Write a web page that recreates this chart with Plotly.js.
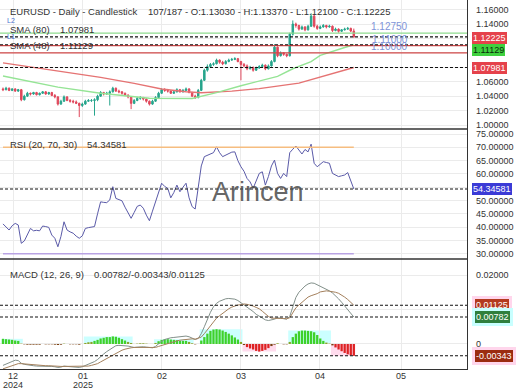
<!DOCTYPE html>
<html><head><meta charset="utf-8">
<script src="https://cdn.plot.ly/plotly-3.0.1.min.js"></script>
<style>html,body{margin:0;padding:0;background:#fff}#chart{width:520px;height:390px}</style>
</head><body><div id="chart"></div>
<script>
// ---------- DATA ----------
const openP = [1.050,1.049,1.051,1.048,1.050,1.047,1.049,1.035,1.040,1.044,
1.043,1.045,1.042,1.044,1.046,1.043,1.045,1.041,1.039,1.029,
1.033,1.039,1.034,1.033,1.032,1.030,1.027,1.029,1.033,1.034,
1.034,1.035,1.040,1.045,1.043,1.044,1.046,1.051,1.047,1.046,
1.044,1.041,1.039,1.030,1.034,1.037,1.038,1.036,1.033,1.029,
1.033,1.038,1.044,1.049,1.048,1.047,1.044,1.046,1.049,1.046,
1.048,1.050,1.045,1.040,1.038,1.048,1.062,1.076,1.081,1.084,
1.085,1.090,1.087,1.085,1.088,1.090,1.091,1.092,1.088,1.084,
1.082,1.078,1.080,1.076,1.079,1.081,1.083,1.078,1.082,1.088,
1.108,1.096,1.100,1.098,1.096,1.126,1.140,1.138,1.133,1.136,
1.132,1.137,1.151,1.137,1.134,1.136,1.138,1.136,1.137,1.131,
1.133,1.130,1.132,1.133,1.134,1.13030];
const highP = [1.052,1.053,1.052,1.051,1.051,1.050,1.050,1.042,1.046,1.045,
1.046,1.046,1.045,1.047,1.047,1.046,1.046,1.043,1.040,1.035,
1.041,1.040,1.036,1.035,1.034,1.031,1.031,1.035,1.036,1.036,
1.037,1.042,1.047,1.046,1.046,1.048,1.053,1.052,1.049,1.047,
1.045,1.043,1.040,1.036,1.039,1.040,1.039,1.037,1.034,1.035,
1.040,1.046,1.051,1.051,1.050,1.048,1.048,1.051,1.050,1.050,
1.052,1.051,1.046,1.042,1.050,1.064,1.078,1.084,1.086,1.087,
1.092,1.091,1.089,1.090,1.092,1.093,1.094,1.093,1.089,1.086,
1.084,1.082,1.081,1.081,1.083,1.085,1.084,1.084,1.090,1.112,
1.109,1.102,1.101,1.099,1.128,1.145,1.142,1.139,1.138,1.137,
1.139,1.155,1.153,1.139,1.138,1.140,1.139,1.139,1.138,1.135,
1.134,1.133,1.135,1.136,1.135,1.13370];
const lowP = [1.047,1.048,1.047,1.047,1.046,1.046,1.033,1.034,1.039,1.041,
1.042,1.041,1.041,1.043,1.042,1.042,1.040,1.037,1.027,1.028,
1.032,1.033,1.031,1.030,1.029,1.011,1.025,1.028,1.032,1.032,
1.013,1.033,1.039,1.041,1.042,1.027,1.045,1.046,1.044,1.042,
1.040,1.037,1.022,1.029,1.033,1.035,1.034,1.031,1.027,1.028,
1.032,1.037,1.043,1.046,1.045,1.043,1.043,1.045,1.045,1.045,
1.047,1.044,1.039,1.036,1.037,1.047,1.061,1.074,1.079,1.082,
1.084,1.085,1.083,1.084,1.087,1.089,1.090,1.087,1.062,1.080,
1.076,1.077,1.074,1.075,1.078,1.080,1.076,1.077,1.081,1.087,
1.094,1.095,1.096,1.094,1.095,1.124,1.135,1.131,1.132,1.130,
1.131,1.136,1.135,1.132,1.133,1.135,1.134,1.135,1.129,1.130,
1.128,1.129,1.131,1.132,1.129,1.12100];
const closeP = [1.049,1.051,1.048,1.050,1.047,1.049,1.035,1.040,1.044,1.043,
1.045,1.042,1.044,1.046,1.043,1.045,1.041,1.039,1.029,1.033,
1.039,1.034,1.033,1.032,1.030,1.027,1.029,1.033,1.034,1.034,
1.035,1.040,1.045,1.043,1.044,1.046,1.051,1.047,1.046,1.044,
1.041,1.039,1.030,1.034,1.037,1.038,1.036,1.033,1.029,1.033,
1.038,1.044,1.049,1.048,1.047,1.044,1.046,1.049,1.046,1.048,
1.050,1.045,1.040,1.038,1.048,1.062,1.076,1.081,1.084,1.085,
1.090,1.087,1.085,1.088,1.090,1.091,1.092,1.088,1.084,1.082,
1.078,1.080,1.076,1.079,1.081,1.083,1.078,1.082,1.088,1.108,
1.096,1.100,1.098,1.096,1.126,1.140,1.138,1.133,1.136,1.132,
1.137,1.151,1.137,1.134,1.136,1.138,1.136,1.137,1.131,1.133,
1.130,1.132,1.133,1.134,1.13030,1.12225];

const sma80Idx = [0,18,32,43,52,60,65,75,84,97,106,115];
const sma80Val = [1.0862,1.0748,1.0660,1.0578,1.0500,1.0462,1.0448,1.0470,1.0505,1.0580,1.0690,1.07981];
const sma48Idx = [0,18,32,48,62,70,78,84,90,95,101,104,109,112,115];
const sma48Val = [1.0680,1.0525,1.0440,1.0370,1.0368,1.0450,1.0545,1.0610,1.0675,1.0780,1.0880,1.0965,1.1040,1.1075,1.11129];

const rsi = [41.2,40.0,38.9,40.5,41.4,40.8,33.9,34.8,37.0,39.5,
38.6,38.8,38.6,40.4,40.2,39.9,37.0,35.8,32.6,36.5,
42.0,38.9,38.2,37.7,36.6,35.8,36.7,39.5,39.8,39.9,
40.2,45.0,49.5,49.3,49.2,50.2,55.2,50.8,50.3,49.9,
47.5,45.5,43.3,45.5,47.8,48.3,47.1,44.5,42.4,46.0,
49.5,53.0,56.5,55.3,54.6,51.0,53.0,55.8,53.3,55.0,
56.5,51.0,47.7,46.8,56.0,63.0,66.5,67.0,67.5,68.0,
70.2,68.0,66.5,67.0,67.5,68.2,68.3,65.0,62.7,61.0,
58.3,57.0,54.6,57.5,60.2,60.8,55.8,59.0,63.0,65.2,
60.2,58.3,60.2,59.0,68.0,69.3,70.5,69.0,67.5,69.2,
68.3,71.2,64.0,62.7,63.5,64.6,64.3,64.0,60.2,59.5,
59.0,59.3,59.6,60.5,57.7,54.34581];
const rsiBands = [70, 30];

const macd = [-0.0062,-0.0058,-0.0053,-0.0050,-0.0047,-0.0048,-0.0056,
-0.0059,-0.0061,-0.0062,-0.0063,-0.0064,-0.0064,-0.0063,-0.0064,-0.0064,
-0.0065,-0.0066,-0.0068,-0.0067,-0.0064,-0.0065,-0.0066,-0.0066,-0.0067,-0.0068,-0.0066,
-0.0062,-0.0059,-0.0056,-0.0051,-0.0045,
-0.0036,-0.0029,-0.0022,-0.0016,-0.0009,-0.0005,-0.0004,-0.0004,-0.0005,-0.0006,
-0.0008,-0.0010,-0.0009,-0.0008,-0.0008,-0.0009,-0.0011,-0.0011,-0.0007,
0.0001,0.0008,0.0013,0.0016,0.0018,0.0019,0.0020,0.0020,0.0021,0.0023,0.0021,0.0017,0.0013,
0.0016,0.0030,0.0050,0.0072,0.0092,0.0108,0.0118,0.0124,0.0128,0.0131,0.0132,0.0132,0.0130,0.0126,0.0120,
0.0113,0.0106,0.0100,0.0094,0.0086,0.0080,0.0075,0.0070,0.0068,0.0069,
0.0072,0.0076,0.0074,0.0073,0.0072,0.0080,
0.0110,0.0135,0.0150,0.0160,0.0168,0.0174,0.0177,0.0176,0.0172,0.0167,0.0162,
0.0158,0.0154,0.0148,0.0140,0.0131,0.0121,0.0110,0.0099,0.0089,0.00782];
const signal = [-0.0072,-0.0069,-0.0066,-0.0062,-0.0059,-0.0057,-0.0057,
-0.0058,-0.0059,-0.0060,-0.0061,-0.0062,-0.0062,-0.0063,-0.0063,-0.0063,
-0.0064,-0.0064,-0.0065,-0.0065,-0.0065,-0.0065,-0.0065,-0.0065,-0.0066,-0.0066,-0.0066,
-0.0065,-0.0064,-0.0062,-0.0060,-0.0057,
-0.0052,-0.0047,-0.0042,-0.0036,-0.0031,-0.0026,-0.0022,-0.0018,-0.0015,-0.0012,
-0.0011,-0.0010,-0.0010,-0.0010,-0.0010,-0.0010,-0.0011,-0.0011,-0.0010,
-0.0007,-0.0004,-0.0001,0.0002,0.0005,0.0007,0.0009,0.0011,0.0012,0.0014,0.0015,0.0015,0.0014,
0.0016,0.0020,0.0030,0.0042,0.0054,0.0066,0.0075,0.0082,0.0089,0.0096,0.0102,0.0107,0.0111,0.0113,0.0114,
0.0116,0.0115,0.0113,0.0110,0.0106,0.0102,0.0095,0.0087,0.0080,0.0075,
0.0074,0.0074,0.0074,0.0074,0.0073,0.0076,
0.0090,0.0105,0.0113,0.0121,0.0129,0.0136,0.0140,0.0142,0.0146,0.0151,0.0153,
0.0154,0.0153,0.0152,0.0150,0.0147,0.0142,0.0136,0.0129,0.0122,0.01125];
const hist = [0.0015,0.0014,0.0013,0.0012,0.0010,0.0009,0.0001,
-0.0001,-0.0002,-0.0002,-0.0002,-0.0002,-0.0002,0.0000,-0.0001,-0.0001,
-0.0001,-0.0002,-0.0003,-0.0002,0.0001,0.0000,-0.0001,-0.0001,-0.0001,-0.0002,0.0000,
0.0003,0.0005,0.0006,0.0009,0.0012,
0.0016,0.0018,0.0020,0.0020,0.0022,0.0021,0.0018,0.0014,0.0010,0.0006,
0.0003,0.0000,0.0001,0.0002,0.0002,0.0001,0.0000,0.0000,0.0003,
0.0008,0.0012,0.0014,0.0014,0.0013,0.0012,0.0011,0.0009,0.0009,0.0009,0.0006,0.0002,-0.0001,
0.0000,0.0010,0.0020,0.0030,0.0038,0.0042,0.0043,0.0042,0.0039,0.0035,0.0030,0.0025,0.0019,0.0013,0.0006,
-0.0003,-0.0009,-0.0013,-0.0016,-0.0020,-0.0022,-0.0020,-0.0017,-0.0012,-0.0006,
-0.0002,0.0002,0.0000,-0.0001,-0.0001,0.0006,
0.0020,0.0030,0.0037,0.0039,0.0039,0.0038,0.0037,0.0034,0.0026,0.0016,0.0009,
0.0004,0.0001,-0.0004,-0.0010,-0.0016,-0.0021,-0.0026,-0.0030,-0.0033,-0.00343];

const levelValues = [1.1275, 1.1100, 1.1000];
const levelLabels = ['1.12750', '1.11000', '1.10000'];

const monthTickPos = [3.3, 26.2, 52.1, 78.0, 103.9, 130.5];
const monthTickText = ['12', '01', '02', '03', '04', '05'];
const yearTickText = ['2024', '2025'];

const priceTicks = [1.00,1.02,1.04,1.06,1.08,1.10,1.12,1.14,1.16];
const rsiTicks = [30,35,40,45,50,55,60,65,70,75];
const macdTicks = [0, 0.01, 0.02];

// ---------- BUILD ----------
const N = closeP.length;
const idx = closeP.map((_, i) => i);
const last = a => a[a.length - 1];
const f5 = v => v.toFixed(5);
const PW = 467, PH = 369;
const px = x => x / PW, py = y => (PH - y) / PH;

const lastClose = last(closeP), lastS80 = last(sma80Val), lastS48 = last(sma48Val);
const lastRsi = last(rsi), lastMacd = last(macd), lastSig = last(signal), lastHist = last(hist);

const UP = '#27a58c', DN = '#e0475b';
const traces = [
  {type:'candlestick', x:idx, open:openP, high:highP, low:lowP, close:closeP,
   xaxis:'x', yaxis:'y', whiskerwidth:0,
   increasing:{line:{color:UP,width:1}, fillcolor:UP},
   decreasing:{line:{color:DN,width:1}, fillcolor:DN}, hoverinfo:'skip'},
  {type:'scatter', mode:'lines', x:sma80Idx, y:sma80Val, xaxis:'x', yaxis:'y',
   line:{color:'#e57373', width:1.4}},
  {type:'scatter', mode:'lines', x:sma48Idx, y:sma48Val, xaxis:'x', yaxis:'y',
   line:{color:'#95e495', width:1.4}},
  {type:'scatter', mode:'lines', x:idx, y:rsi, xaxis:'x', yaxis:'y2',
   line:{color:'#5a5aa8', width:1}},
  {type:'bar', x:idx, y:hist, xaxis:'x', yaxis:'y3',
   marker:{color: hist.map(h => h >= 0 ? (h < 0.0008 ? '#8aa52a' : '#3fd12a') : (h > -0.0008 ? '#7a4010' : '#dd2222')), line:{width:0}}},
  {type:'scatter', mode:'lines', x:idx, y:macd, xaxis:'x', yaxis:'y3',
   line:{color:'#82908a', width:1}},
  {type:'scatter', mode:'lines', x:idx, y:signal, xaxis:'x', yaxis:'y3',
   line:{color:'#a4805c', width:1}}
];

const shapes = [];
// highlight zones behind histogram runs
let s = 0;
const sign = v => v > 0 ? 1 : (v < 0 ? -1 : 0);
for (let i = 1; i <= N; i++) {
  if (i === N || sign(hist[i]) !== sign(hist[s])) {
    const seg = hist.slice(s, i);
    const ext = sign(hist[s]) > 0 ? Math.max(...seg) : Math.min(...seg);
    if (Math.abs(ext) >= 0.0005) {
      shapes.push({type:'rect', xref:'x', yref:'y3', x0:s-0.5, x1:i-0.5, y0:0, y1:ext,
        fillcolor: ext > 0 ? 'rgba(190,255,255,0.8)' : 'rgba(255,210,232,0.8)', line:{width:0}, layer:'below'});
    }
    s = i;
  }
}
// level lines
const levelColors = ['#8fdc8f', '#d04848', '#d04848'];
levelValues.forEach((v, k) => shapes.push({type:'line', xref:'paper', yref:'y', x0:0, x1:1, y0:v, y1:v,
  line:{color:levelColors[k], width:1.3}}));
// dashed current-value lines
const dashed = (yref, v) => ({type:'line', xref:'paper', yref, x0:0, x1:1, y0:v, y1:v, line:{color:'#111', width:1.1, dash:'3px,2px'}});
shapes.push(dashed('y', lastClose), dashed('y', lastS48), dashed('y', lastS80));
shapes.push(dashed('y2', lastRsi));
shapes.push(dashed('y3', lastMacd), dashed('y3', lastSig), dashed('y3', lastHist));
// RSI bands
const bandColors = ['#f6bd80', '#b9a3e3'];
rsiBands.forEach((v, k) => shapes.push({type:'line', xref:'x', yref:'y2', x0:0, x1:N-1, y0:v, y1:v,
  line:{color:bandColors[k], width:1.5}}));
// panel separators
[0.6504, 0.2981].forEach(yy => shapes.push({type:'line', xref:'paper', yref:'paper', x0:0, x1:1, y0:yy, y1:yy,
  line:{color:'#333', width:1.3}}));

const txt = '#333';
const ann = [];
const label = (x, y, text, extra) => ann.push(Object.assign({xref:'paper', yref:'paper', x:px(x), y:py(y), text,
  showarrow:false, xanchor:'left', yanchor:'middle', font:{size:9.5, color:txt}}, extra || {}));
label(8, 12, 'EURUSD - Daily - Candlestick');
label(146, 12, '107/187 - O:' + f5(last(openP)) + ' - H:' + f5(last(highP)) + ' - L:' + f5(last(lowP)) + ' - C:' + f5(lastClose));
label(8, 29.5, 'SMA (80)');
label(58, 29.5, f5(lastS80));
label(8, 45.5, 'SMA (48)');
label(58, 45.5, f5(lastS48));
label(5, 21, 'L2', {font:{size:7, color:'#4a72d0'}});
label(5, 36.5, 'L1', {font:{size:7, color:'#4a72d0'}});
label(8, 144, 'RSI (20, 70, 30)');
label(85, 144, f5(lastRsi));
label(8, 274, 'MACD (12, 26, 9)');
label(92, 274, f5(lastMacd) + '/' + f5(lastHist) + '/' + f5(lastSig));
// watermark
ann.push({xref:'paper', yref:'paper', x:px(258), y:py(192), text:'Arincen', showarrow:false,
  font:{size:27, color:'rgba(75,75,75,0.85)', family:'Liberation Sans, Arial, sans-serif'}});
// level labels
levelValues.forEach((v, k) => ann.push({xref:'paper', yref:'y', x:px(409), y:v, yanchor:'bottom', text:levelLabels[k],
  showarrow:false, font:{size:10, color:'#8094d8'}, borderpad:0}));
// value boxes on the right axis
const box = (yref, v, bg, fg, shift, halo) => ann.push({xref:'paper', yref, x:px(472), xanchor:'left', y:v, yanchor:'middle',
  yshift: shift, text:f5(v), showarrow:false, bgcolor:bg, font:{size:9, color:fg}, borderpad:1,
  bordercolor: halo || bg, borderwidth: halo ? 3 : 0});
box('y', lastClose, '#e5424b', '#fff', -1);
box('y', lastS48, '#3fd13f', '#0a2a0a', -5);
box('y', lastS80, '#e5424b', '#fff', -1);
box('y2', lastRsi, '#3b3bd6', '#fff', 0);
box('y3', lastSig, '#b33a1e', '#fff', 0, '#ffd6ec');
box('y3', lastMacd, '#2f7f3d', '#fff', 0, '#c8ffff');
box('y3', lastHist, '#9b2c10', '#fff', 0, '#ffd6ec');
// month and year labels under the x axis
monthTickText.forEach((t, k) => ann.push({xref:'x', yref:'paper', x:monthTickPos[k], y:py(375.5), text:t,
  showarrow:false, yanchor:'middle', font:{size:9, color:txt}, borderpad:0}));
yearTickText.forEach((t, k) => ann.push({xref:'x', yref:'paper', x:monthTickPos[k], y:py(385), text:t,
  showarrow:false, yanchor:'middle', font:{size:9, color:txt}, borderpad:0}));

const yBase = {side:'right', anchor:'x', showgrid:true, gridcolor:'#ebebeb', zeroline:false, showline:true,
  linecolor:'#333', linewidth:1.2, ticks:'outside', ticklen:6, tickcolor:'rgba(0,0,0,0)', fixedrange:true,
  tickfont:{size:9, color:txt}};
const layout = {
  width:520, height:390, margin:{l:0, r:53, t:0, b:21}, paper_bgcolor:'#fff', plot_bgcolor:'#fff',
  showlegend:false, hovermode:false, bargap:0.25,
  font:{family:'Liberation Sans, Arial, sans-serif', size:9, color:txt},
  xaxis:{range:[-0.98, 152.1], anchor:'y3', tickvals:monthTickPos, showticklabels:false, showgrid:true,
    gridcolor:'#ebebeb', zeroline:false, showline:true, linecolor:'#333', linewidth:1.2, ticks:'',
    rangeslider:{visible:false}, fixedrange:true},
  yaxis: Object.assign({}, yBase, {domain:[0.6504, 1], range:[0.99445, 1.17337], tickvals:priceTicks,
    ticktext: priceTicks.map(v => [1.08, 1.10, 1.12].some(h => Math.abs(h - v) < 1e-9) ? '' : f5(v))}),
  yaxis2: Object.assign({}, yBase, {domain:[0.2981, 0.6504], range:[28.0, 76.9], tickvals:rsiTicks,
    ticktext: rsiTicks.map(v => v === 55 ? '' : f5(v))}),
  yaxis3: Object.assign({}, yBase, {domain:[0, 0.2981], range:[-0.00725, 0.02464], tickvals:macdTicks,
    ticktext: macdTicks.map(v => v === 0 ? '0' : (v === 0.02 ? f5(v) : ''))}),
  shapes, annotations: ann
};
Plotly.newPlot('chart', traces, layout, {staticPlot:true, displayModeBar:false});
</script></body></html>
